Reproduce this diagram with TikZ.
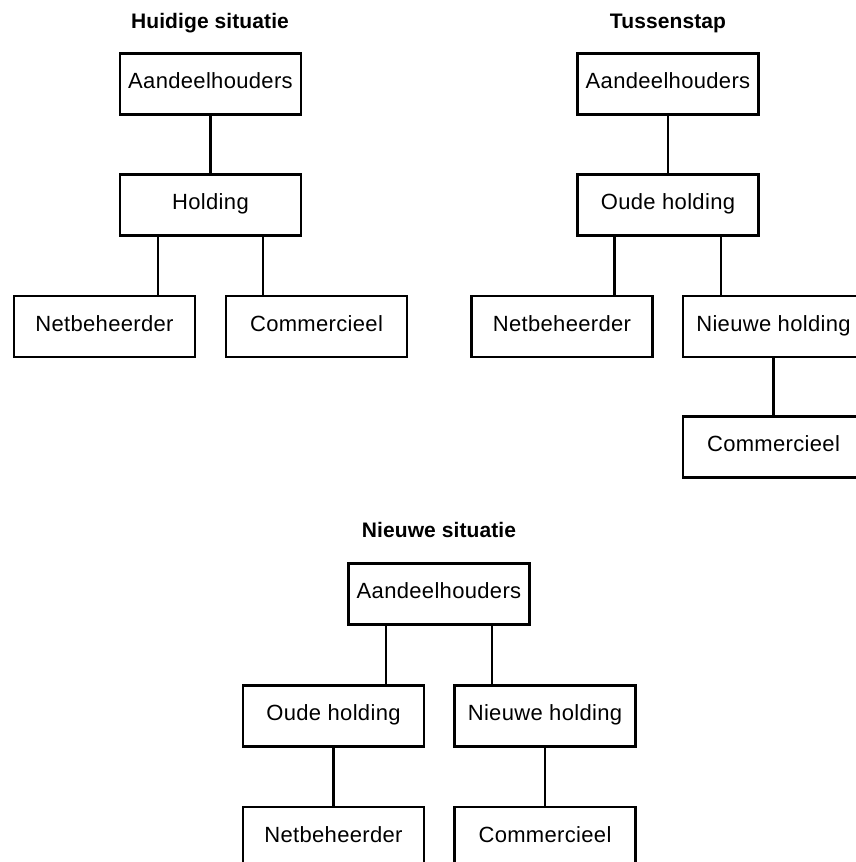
\documentclass[tikz,border=0pt]{standalone}
\usepackage{fontspec}
\newfontfamily\boxfont{Liberation Sans}[LetterSpace=1.5]
\newfontfamily\titlefont{Liberation Sans}[LetterSpace=0.5]
\begin{document}
\begin{tikzpicture}[x=1pt,y=-1pt,
  orgbox/.style={draw, line width=2.8pt, minimum width=181pt, minimum height=61pt, inner sep=0pt,
    font=\boxfont\fontsize{22pt}{26pt}\selectfont, text height=15pt, text depth=6pt},
  ttl/.style={font=\titlefont\bfseries\fontsize{21pt}{25pt}\selectfont, anchor=base, inner sep=0pt},
  conn/.style={line width=2.8pt}]
\useasboundingbox (0,0) rectangle (856,862);
\clip (0,0) rectangle (856,862);
% Huidige situatie
\node[ttl] (t1) at (210,28) {Huidige situatie};
\node[orgbox] (a1) at (210.5,84) {Aandeelhouders};
\node[orgbox] (h1) at (210.5,205) {Holding};
\node[orgbox] (n1) at (104.5,326.5) {Netbeheerder};
\node[orgbox] (c1) at (316.5,326.5) {Commercieel};
\draw[conn] (a1.south) -- (h1.north);
\draw[conn] ([xshift=-52.5pt]h1.south) -- ([xshift=-52.5pt]h1.south |- n1.north);
\draw[conn] ([xshift=52.5pt]h1.south) -- ([xshift=52.5pt]h1.south |- c1.north);
% Tussenstap
\node[ttl] (t2) at (668,28) {Tussenstap};
\node[orgbox] (a2) at (668,84) {Aandeelhouders};
\node[orgbox] (o2) at (668,205) {Oude holding};
\node[orgbox] (n2) at (562,326.5) {Netbeheerder};
\node[orgbox] (nh2) at (773.5,326.5) {Nieuwe holding};
\node[orgbox] (c2) at (773.5,447) {Commercieel};
\draw[conn] (a2.south) -- (o2.north);
\draw[conn] ([xshift=-53.5pt]o2.south) -- ([xshift=-53.5pt]o2.south |- n2.north);
\draw[conn] ([xshift=53pt]o2.south) -- ([xshift=53pt]o2.south |- nh2.north);
\draw[conn] (nh2.south) -- (c2.north);
% Nieuwe situatie
\node[ttl] (t3) at (439,537) {Nieuwe situatie};
\node[orgbox] (a3) at (439,594) {Aandeelhouders};
\node[orgbox] (o3) at (333.5,716) {Oude holding};
\node[orgbox] (nh3) at (545,716) {Nieuwe holding};
\node[orgbox] (n3) at (333.5,837.5) {Netbeheerder};
\node[orgbox] (c3) at (545,837.5) {Commercieel};
\draw[conn] ([xshift=-53pt]a3.south) -- ([xshift=-53pt]a3.south |- o3.north);
\draw[conn] ([xshift=53pt]a3.south) -- ([xshift=53pt]a3.south |- nh3.north);
\draw[conn] (o3.south) -- (n3.north);
\draw[conn] (nh3.south) -- (c3.north);
\end{tikzpicture}
\end{document}
